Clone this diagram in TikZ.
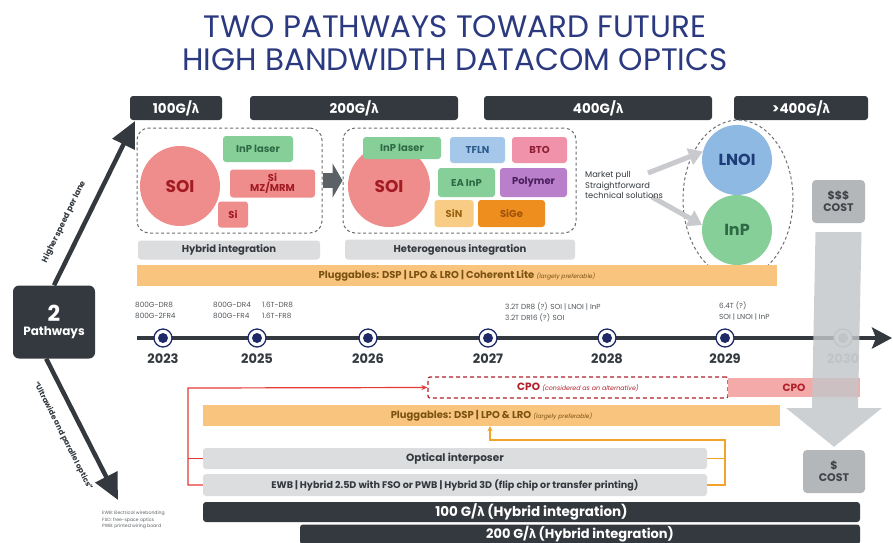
\documentclass[tikz,border=0pt]{standalone}
\usepackage{fontspec}
\setmainfont{Poppins}
\newfontfamily\lamfont{Fira Sans}
\usepackage{xcolor}
\usepackage{tikz}
\usetikzlibrary{calc,arrows.meta,positioning}
\definecolor{ink}{HTML}{33393E}
\definecolor{navy}{HTML}{2B3A80}
\definecolor{mark}{HTML}{1E2A68}
\definecolor{dashgray}{HTML}{6B6F74}
\definecolor{barg}{HTML}{DCDDDF}
\definecolor{soipink}{HTML}{EF8C8C}
\definecolor{soired}{HTML}{A31B22}
\definecolor{leaf}{HTML}{86CF99}
\definecolor{leafd}{HTML}{2E6B45}
\definecolor{sky}{HTML}{A5C8EA}
\definecolor{skyd}{HTML}{2D5A8C}
\definecolor{rose}{HTML}{F093AA}
\definecolor{rosed}{HTML}{8E1F35}
\definecolor{plum}{HTML}{B97FCB}
\definecolor{plumd}{HTML}{4B1F5E}
\definecolor{sand}{HTML}{F8CC84}
\definecolor{sandd}{HTML}{9A6413}
\definecolor{amber}{HTML}{EE8E1E}
\definecolor{amberd}{HTML}{A0520A}
\definecolor{plug}{HTML}{F9C47E}
\definecolor{plugd}{HTML}{7A5312}
\definecolor{lnoiblue}{HTML}{8DB9E3}
\definecolor{lnoid}{HTML}{1E3D78}
\definecolor{costg}{HTML}{B4B7BA}
\definecolor{costd}{HTML}{404448}
\definecolor{shaft}{HTML}{C3C6C9}
\definecolor{pullg}{HTML}{C8CACD}
\definecolor{cpored}{HTML}{B0202A}
\definecolor{cpopink}{HTML}{F5AAAA}
\definecolor{wire}{HTML}{E53935}
\definecolor{owire}{HTML}{F2A32C}
\definecolor{fade}{HTML}{B8BBBE}
\newcommand{\lam}{{\lamfont λ}}
\newcommand{\fsz}[2]{\fontsize{#1}{#2}\selectfont}
\tikzset{
  ttl/.style={text=navy, font=\fsz{31}{34}, inner sep=0pt},
  hdr/.style={fill=ink, rounded corners=3pt, text=white, font=\bfseries\fsz{13.5}{14}, minimum height=24, inner sep=0pt},
  grp/.style={draw=dashgray, dash pattern=on 3pt off 2.5pt, line width=1pt, rounded corners=12pt, inner sep=0pt},
  chip/.style={rounded corners=3pt, font=\bfseries\fsz{10}{11}, inner sep=0pt, align=center},
  soi/.style={circle, fill=soipink, text=soired, font=\bfseries\fsz{17}{17}, inner sep=0pt},
  graybar/.style={fill=barg, rounded corners=3pt, text=ink, font=\bfseries\fsz{10}{11}, inner sep=0pt},
  plugbar/.style={fill=plug, text=plugd, font=\bfseries\fsz{10}{11}, inner sep=0pt},
  darkbar/.style={fill=ink, rounded corners=3pt, text=white, font=\bfseries\fsz{13.5}{14}, inner sep=0pt},
  costbox/.style={fill=costg, rounded corners=4pt, text=costd, font=\bfseries\fsz{11}{12}, align=center, inner sep=0pt},
  ring/.style={circle, draw=mark, line width=1.3pt, fill=white, minimum size=18, inner sep=0pt},
  mdot/.style={circle, fill=mark, minimum size=10, inner sep=0pt},
  year/.style={text=ink, font=\bfseries\fsz{13}{13}, inner sep=0pt},
  prod/.style={text=ink!85, font=\fsz{7.3}{10.5}, align=left, inner sep=0pt, anchor=west},
  pwarrow/.style={draw=ink, line width=4.5pt, -{Triangle[length=26pt,width=24pt]}},
  pullarrow/.style={draw=pullg, line width=5pt, -{Triangle[length=14pt,width=17pt]}},
  redwire/.style={draw=wire, line width=1.2pt},
  orwire/.style={draw=owire, line width=1.2pt},
}

\begin{document}
\begin{tikzpicture}[x=1pt,y=-1pt]
  \useasboundingbox (0,0) rectangle (893,542);
  \clip (0,0) rectangle (893,542);
  \fill[white] (0,0) rectangle (893,542);

  % title
  \node[ttl] (t1) at (455,27) {TWO PATHWAYS TOWARD FUTURE};
  \node[ttl] (t2) at (455,60) {HIGH BANDWIDTH DATACOM OPTICS};

  % lane rates
  \node[hdr, minimum width=92] (h100) at (176,108) {100G/\lam};
  \node[hdr, minimum width=208] (h200) at (354,108) {200G/\lam};
  \node[hdr, minimum width=228] (h400) at (598,108) {400G/\lam};
  \node[hdr, minimum width=134] (hup) at (801,108) {>400G/\lam};

  % hybrid group
  \node[grp, minimum width=185, minimum height=105] (grp1) at (229.5,180.5) {};
  \node[soi, minimum size=80] (soiA) at (180,186) {SOI};
  \node[chip, fill=leaf, text=leafd, minimum width=70, minimum height=26] (inpA) at (258,149) {InP laser};
  \node[chip, fill=soipink, text=soired, minimum width=85, minimum height=28] (simz) at (272.5,183.5) {Si\\[-1pt]MZ/MRM};
  \node[chip, fill=soipink, text=soired, minimum width=30, minimum height=26] (siA) at (233,214.5) {Si};
  \node[graybar, minimum width=182, minimum height=19] (hyb) at (229,250) {Hybrid integration};

  % heterogenous group
  \node[grp, minimum width=233, minimum height=105] (grp2) at (459.5,180.5) {};
  \node[soi, minimum size=82] (soiB) at (389,186) {SOI};
  \node[chip, fill=leaf, text=leafd, minimum width=78, minimum height=22] (inpB) at (402,148) {InP laser};
  \node[chip, fill=sky, text=skyd, minimum width=55, minimum height=26] (tfln) at (477.5,150) {TFLN};
  \node[chip, fill=rose, text=rosed, minimum width=55, minimum height=26] (bto) at (539.5,150) {BTO};
  \node[chip, fill=leaf, text=leafd, minimum width=57, minimum height=29] (eainp) at (466.5,182.5) {EA InP};
  \node[chip, fill=plum, text=plumd, minimum width=67, minimum height=29] (poly) at (533.5,182.5) {Polymer};
  \node[chip, fill=sand, text=sandd, minimum width=39, minimum height=27] (sin) at (454,213.5) {SiN};
  \node[chip, fill=amber, text=amberd, minimum width=67, minimum height=27] (sige) at (511.5,213.5) {SiGe};
  \node[graybar, minimum width=230, minimum height=20] (het) at (460,249.5) {Heterogenous integration};

  \draw[draw=ink!80, line width=15pt, -{Triangle[length=10pt,width=34pt]}] (grp1.east) -- (grp2.west);

  % >400G candidates
  \node[circle, fill=lnoiblue, text=lnoid, font=\bfseries\fsz{16}{16}, minimum size=70, inner sep=0pt] (lnoi) at (737,160) {LNOI};
  \node[circle, fill=leaf, text=leafd, font=\bfseries\fsz{16}{16}, minimum size=70, inner sep=0pt] (inpC) at (737,230) {InP};
  \draw[draw=dashgray, dash pattern=on 3pt off 2.5pt, line width=1pt] (738,199) ellipse [x radius=55, y radius=79];
  \coordinate (pull1) at (648,173);
  \coordinate (pull2) at (652,197);
  \draw[pullarrow] (pull1) -- (lnoi.166);
  \draw[pullarrow] (pull2) -- (inpC.172);
  \node[text=ink, font=\fsz{8.3}{10.8}, align=left, anchor=west, inner sep=0pt] (mkt) at (585,185) {Market pull\\Straightforward\\technical solutions};

  \node[plugbar, minimum width=640, minimum height=21] (plug1) at (457,275.5)
    {Pluggables: DSP | LPO \& LRO | Coherent Lite {\mdseries\itshape\fsz{6}{7}(largely preferable)}};

  % timeline
  \coordinate (tl0) at (137,338);
  \coordinate (tl1) at (892,338);
  \draw[draw=ink, line width=4pt, -{Stealth[length=20pt,width=21pt,inset=4pt]}] (tl0) -- (tl1);
  \foreach \xx/\yr in {163/2023,257/2025,368/2026,488/2027,607/2028,725/2029}{
    \node[ring] (m\yr) at (\xx,338) {};
    \node[mdot] at (m\yr) {};
    \node[year, below=6pt of m\yr] {\yr};
  }
  \node[ring, draw=fade] (m2030) at (843,338) {};
  \node[mdot, fill=fade] at (m2030) {};
  \node[year, text=fade, below=6pt of m2030] {2030};

  \node[prod] (p23) at (135,310.5) {800G-DR8\\800G-2FR4};
  \node[prod] (p25a) at (213,310.5) {800G-DR4\\800G-FR4};
  \node[prod] (p25b) at (262,310.5) {1.6T-DR8\\1.6T-FR8};
  \node[prod] (p27) at (505,312.5) {3.2T DR8 (?) SOI | LNOI | InP\\3.2T DR16 (?) SOI};
  \node[prod] (p29) at (719,311) {6.4T (?)\\SOI | LNOI | InP};

  % two pathways
  \node[fill=ink, rounded corners=6pt, minimum width=82, minimum height=73, text=white, align=center, inner sep=0pt] (pw) at (54,322)
    {{\bfseries\fsz{22}{22}2}\\[2pt]{\bfseries\fsz{12}{12}Pathways}};
  \coordinate (uptip) at (135,121);
  \coordinate (downtip) at (118,500);
  \draw[pwarrow] (pw.north) -- (uptip);
  \draw[pwarrow] (pw.258) -- (downtip);
  \node[rotate=64, text=ink, font=\bfseries\fsz{8}{8}, inner sep=0pt] (upl) at (64,222) {Higher speed per lane};
  \node[rotate=-63, text=ink, font=\bfseries\fsz{7.6}{8}, inner sep=0pt] (dnl) at (63,436) {“Ultrawide and parallel optics”};
  \node[text=ink!80, font=\fsz{4.6}{6.6}, align=left, anchor=north west, inner sep=0pt] (notes) at (102,511)
    {EWB: Electrical wirebonding\\FSO: free-space optics\\PWB: printed wiring board};

  % packaging options
  \node[draw=cpored, fill=white, dash pattern=on 4pt off 3pt, line width=1.2pt, rounded corners=2pt, minimum width=300, minimum height=21, inner sep=0pt, text=cpored, font=\bfseries\fsz{10.5}{11}] (cpoalt) at (578,387.5)
    {CPO {\mdseries\itshape\fsz{6.3}{7}(considered as an alternative)}};
  \node[fill=cpopink, minimum width=132, minimum height=19, inner sep=0pt, text=cpored, font=\bfseries\fsz{10.5}{11}] (cpo) at (794,387.5) {CPO};
  \node[plugbar, minimum width=577, minimum height=21] (plug2) at (491.5,415.5)
    {Pluggables: DSP | LPO \& LRO {\mdseries\itshape\fsz{6}{7}(largely preferable)}};
  \node[graybar, font=\bfseries\fsz{10.5}{11}, minimum width=504, minimum height=21] (ipos) at (455,458.5) {Optical interposer};
  \node[graybar, font=\bfseries\fsz{9.6}{11}, minimum width=504, minimum height=22] (ewb) at (455,485)
    {EWB | Hybrid 2.5D with FSO or PWB | Hybrid 3D (flip chip or transfer printing)};
  \node[darkbar, minimum width=657, minimum height=20] (b100) at (531.5,512) {100 G/\lam{} (Hybrid integration)};
  \node[darkbar, minimum width=560, minimum height=20, font=\bfseries\fsz{13}{14}] (b200) at (580,534.5) {200 G/\lam{} (Hybrid integration)};
  \fill[ink] (b200.south west) rectangle ++(560,10);

  \coordinate (rtop) at (188,388);
  \draw[redwire, -{Stealth[length=6pt,width=5pt]}] (ewb.west) -| (rtop) -- (cpoalt.west);
  \draw[redwire] (ipos.west) -- (ipos.west -| rtop);
  \coordinate (obr) at (725,440);
  \coordinate (oup) at (490,440);
  \draw[orwire, -{Stealth[length=5pt,width=5pt]}] (ewb.east) -| (obr) -- (oup) -- (oup |- plug2.south);
  \draw[orwire] (ipos.east) -- (ipos.east -| obr);

  % cost arrow
  \node[costbox, minimum width=53, minimum height=43] (cost3) at (838.5,201.5) {\$\$\$\\COST};
  \node[costbox, minimum width=62, minimum height=43] (cost1) at (834,471.5) {\$\\COST};
  \fill[shaft, opacity=0.82] ($(cost3.south)+(-23,9)$) -- ++(46,0) -- (858,408) -- (882,408) -- ($(cost1.north)+(0,-3)$)
    -- (786,408) -- (812,408) -- cycle;
\end{tikzpicture}
\end{document}
